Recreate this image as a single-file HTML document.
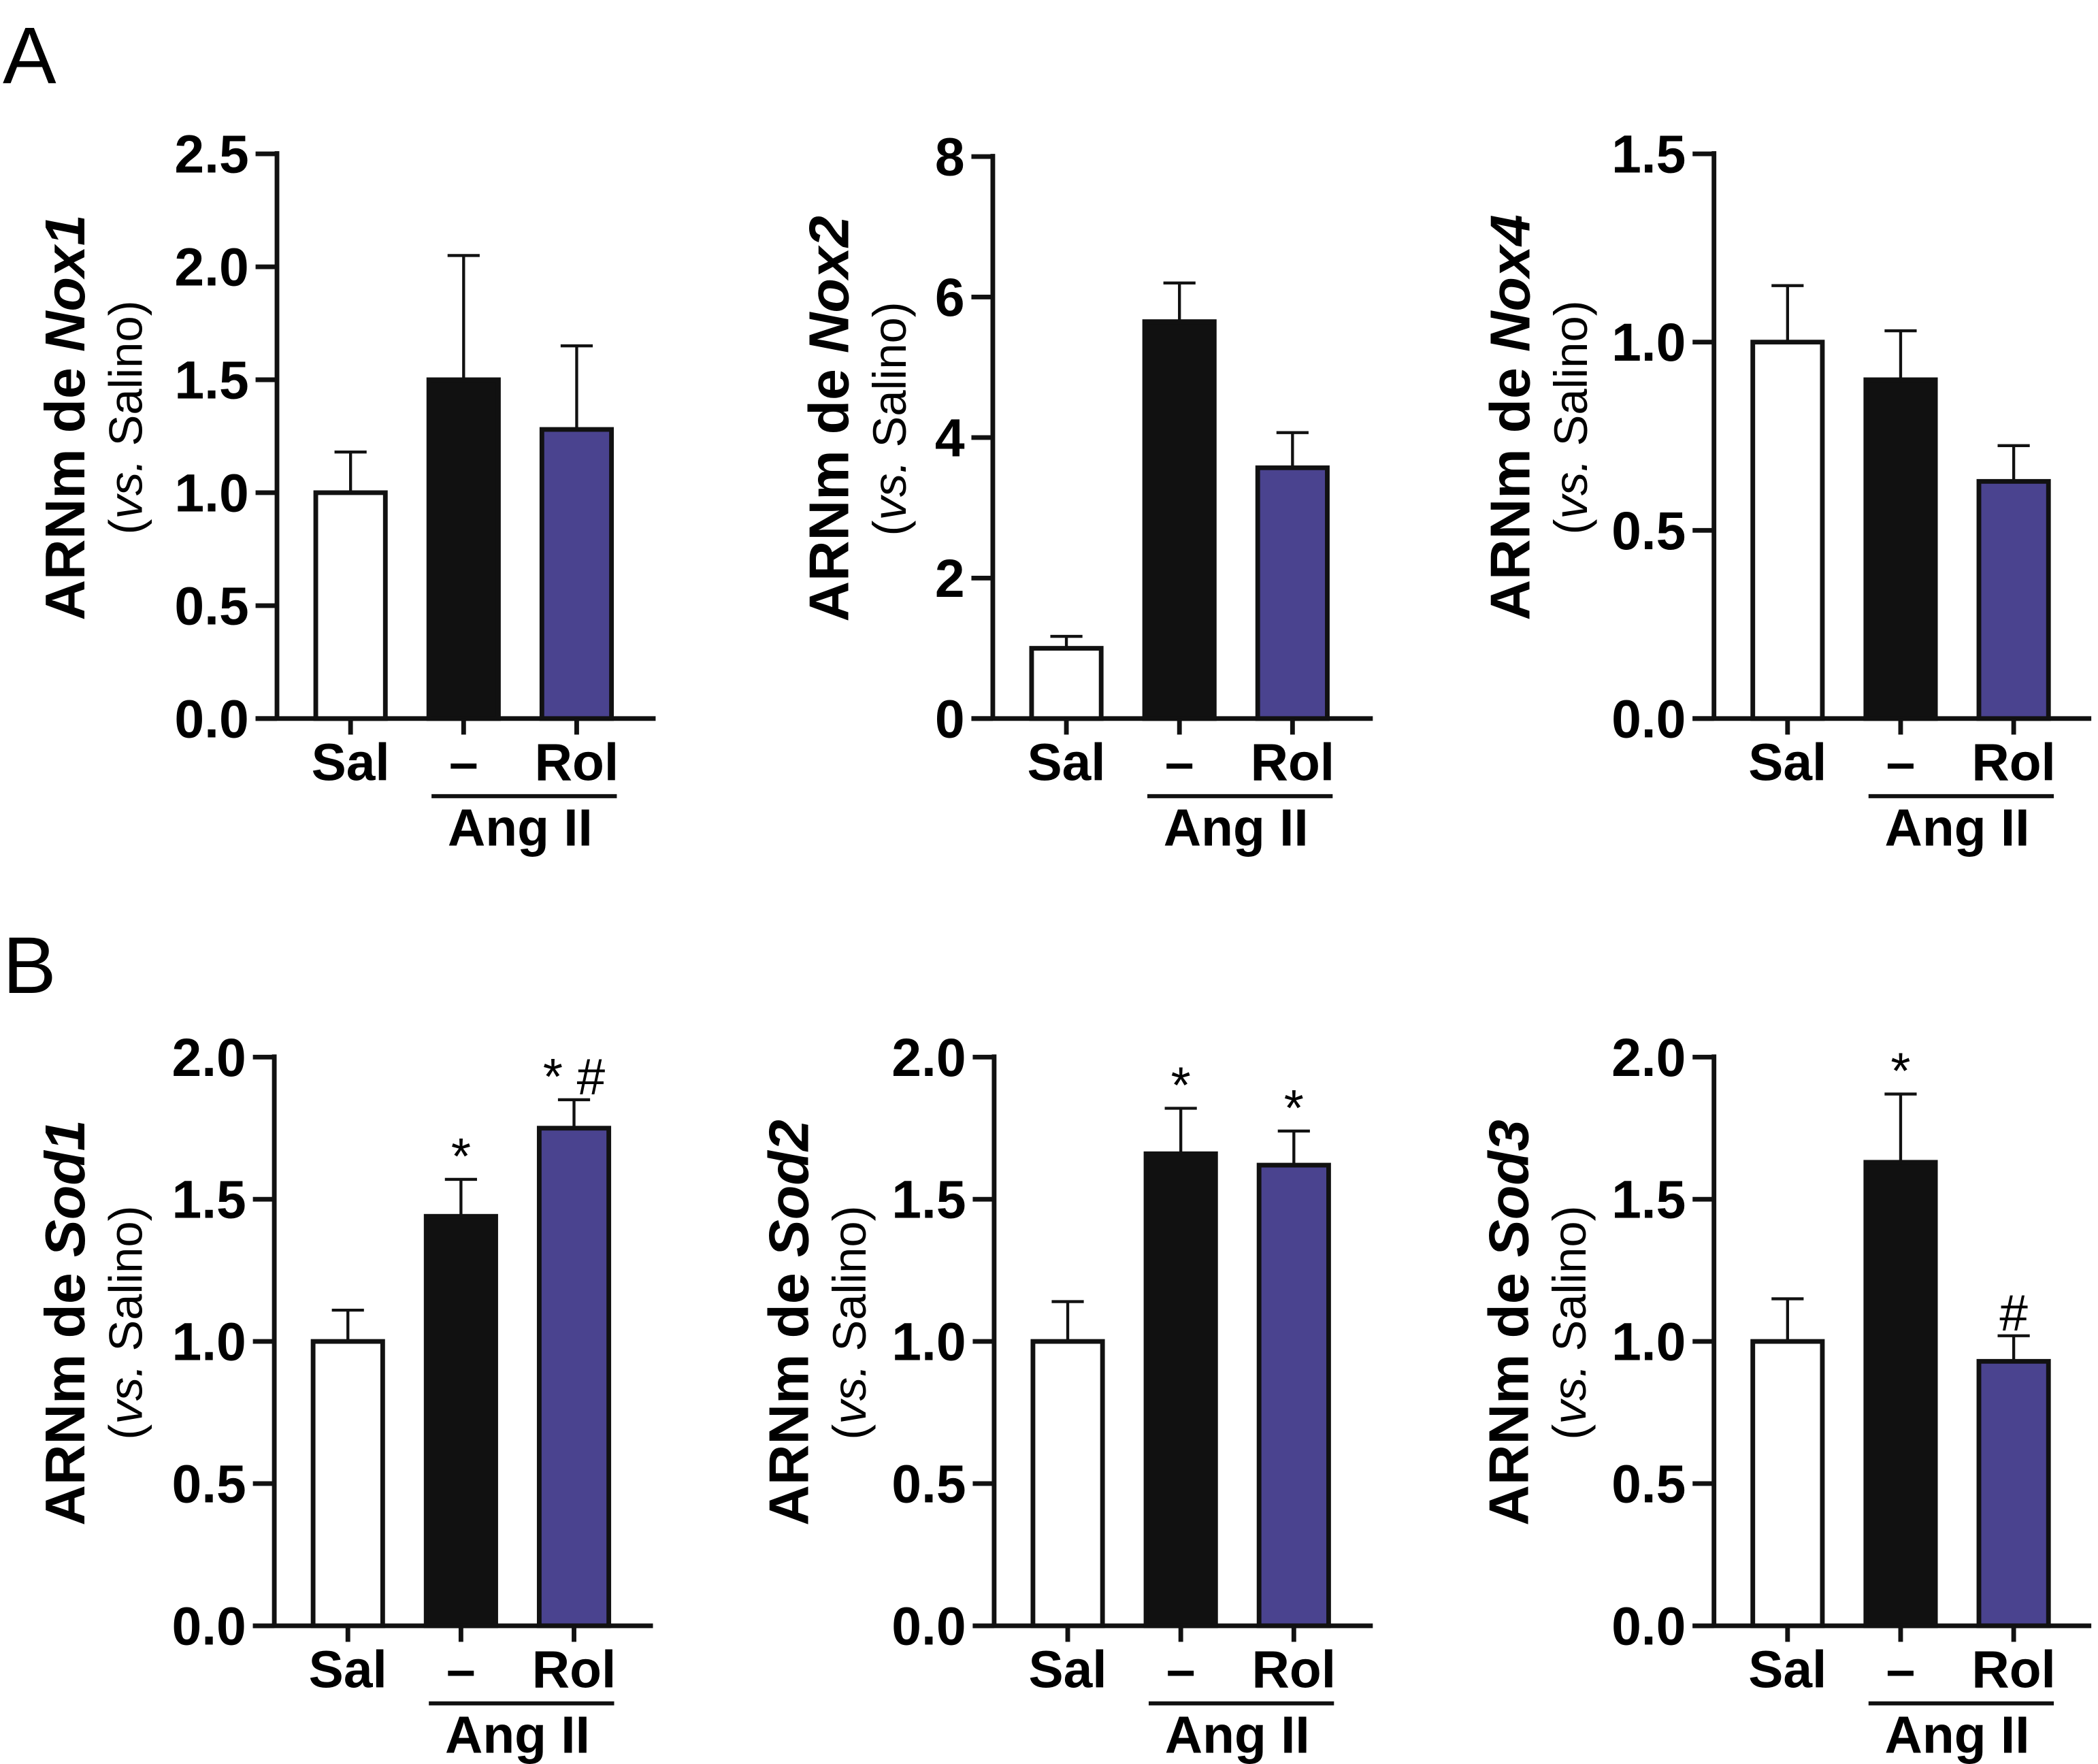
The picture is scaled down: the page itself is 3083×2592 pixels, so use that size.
<!DOCTYPE html>
<html><head><meta charset="utf-8"><style>
html,body{margin:0;padding:0;background:#fff;}
svg{display:block;}
text{font-family:"Liberation Sans",Arial,sans-serif;}
</style></head><body>
<svg id="fig" width="3083" height="2592" viewBox="0 0 1568 1318.3" xmlns="http://www.w3.org/2000/svg">
<text x="2" y="62" font-size="60">A</text>
<text x="2" y="742" font-size="60">B</text>
</svg>
<script>
// Panel data
const genes = ["Nox1","Nox2","Nox4","Sod1","Sod2","Sod3"];
const categories = ["Sal","–","Rol"];
const yMaxes = [2.5, 8, 1.5, 2.0, 2.0, 2.0];
const tickLabelsNox1 = ["0.0","0.5","1.0","1.5","2.0","2.5"];
const tickLabelsNox2 = ["0","2","4","6","8"];
const tickLabelsNox4 = ["0.0","0.5","1.0","1.5"];
const tickLabelsSod = ["0.0","0.5","1.0","1.5","2.0"];
const meansNox1 = [1.0, 1.5, 1.28];
const errNox1 = [0.18, 0.55, 0.37];
const meansNox2 = [1.0, 5.65, 3.57];
const errNox2 = [0.17, 0.55, 0.5];
const meansNox4 = [1.0, 0.9, 0.63];
const errNox4 = [0.15, 0.13, 0.095];
const meansSod1 = [1.0, 1.44, 1.75];
const errSod1 = [0.11, 0.13, 0.1];
const meansSod2 = [1.0, 1.66, 1.62];
const errSod2 = [0.14, 0.16, 0.12];
const meansSod3 = [1.0, 1.63, 0.93];
const errSod3 = [0.15, 0.24, 0.09];
const annotSod1 = ["", "*", "* #"];
const annotSod2 = ["", "*", "*"];
const annotSod3 = ["", "*", "#"];

const svg = document.getElementById('fig');
const NS = "http://www.w3.org/2000/svg";
function mk(tag, attrs, parent){ const e=document.createElementNS(NS,tag); for(const k in attrs) e.setAttribute(k,attrs[k]); (parent||svg).appendChild(e); return e; }

const panels = [
 {ax:207, top:115, bot:537, right:490, lx:63, sx:106, means:meansNox1, err:errNox1, ticks:tickLabelsNox1, max:yMaxes[0], ann:null},
 {ax:742, top:117, bot:537, right:1026, lx:634, sx:677, means:meansNox2, err:errNox2, ticks:tickLabelsNox2, max:yMaxes[1], ann:null},
 {ax:1281, top:115, bot:537, right:1563, lx:1143, sx:1186, means:meansNox4, err:errNox4, ticks:tickLabelsNox4, max:yMaxes[2], ann:null},
 {ax:205, top:790, bot:1215, right:488, lx:63, sx:106, means:meansSod1, err:errSod1, ticks:tickLabelsSod, max:yMaxes[3], ann:annotSod1},
 {ax:743, top:790, bot:1215, right:1026, lx:604, sx:647, means:meansSod2, err:errSod2, ticks:tickLabelsSod, max:yMaxes[4], ann:annotSod2},
 {ax:1281, top:790, bot:1215, right:1563, lx:1142, sx:1185, means:meansSod3, err:errSod3, ticks:tickLabelsSod, max:yMaxes[5], ann:annotSod3}
];
const fills = ["#ffffff","#111111","#4a438f"];

panels.forEach((p, pi) => {
  const g = mk('g', {});
  
  
  const y = v => p.bot - (v / p.max) * (p.bot - p.top);
  const xc = i => p.ax + 55 + i * 84.5;
  const ya = mk('line', {x1:p.ax, y1:p.top-2, x2:p.ax, y2:p.bot, stroke:'#111', 'stroke-width':3.5}, g);
  
  
  const xa = mk('line', {x1:p.ax-16, y1:p.bot, x2:p.right, y2:p.bot, stroke:'#111', 'stroke-width':3.5}, g);
  
  
  p.ticks.forEach((t, ti) => {
    const v = ti * p.max / (p.ticks.length - 1);
    const ty = y(v);
    mk('line', {x1:p.ax-16, y1:ty, x2:p.ax, y2:ty, stroke:'#111', 'stroke-width':3.5}, g);
    const tl = mk('text', {x:p.ax-21, y:ty+14, 'font-size':40, 'font-weight':'bold', 'text-anchor':'end'}, g);
    
    
    tl.textContent = t;
  });
  p.means.forEach((m, i) => {
    const cx = xc(i), top = y(m), et = y(m + p.err[i]);
    const eb = mk('line', {x1:cx, y1:top, x2:cx, y2:et, stroke:'#111', 'stroke-width':2.2}, g);
    
    
    mk('line', {x1:cx-12, y1:et, x2:cx+12, y2:et, stroke:'#111', 'stroke-width':2.2}, g);
    const b = mk('rect', {x:cx-26, y:top, width:52, height:p.bot-top, fill:fills[i], stroke:'#111', 'stroke-width':3.5}, g);
    
    
    mk('line', {x1:cx, y1:p.bot, x2:cx, y2:p.bot+12, stroke:'#111', 'stroke-width':3.5}, g);
    const cl = mk('text', {x:cx, y:p.bot+46, 'font-size':39, 'font-weight':'bold', 'text-anchor':'middle'}, g);
    
    
    cl.textContent = categories[i];
    if (p.ann && p.ann[i]) {
      const at = mk('text', {x:cx, y:et-4, 'font-size':38, 'text-anchor':'middle'}, g);
      
      
      at.textContent = p.ann[i];
    }
  });
  const gl = mk('line', {x1:xc(1)-24, y1:p.bot+58, x2:xc(2)+30, y2:p.bot+58, stroke:'#111', 'stroke-width':3}, g);
  
  
  const gt = mk('text', {x:(xc(1)+xc(2))/2, y:p.bot+95, 'font-size':39, 'font-weight':'bold', 'text-anchor':'middle'}, g);
  
  
  gt.textContent = 'Ang II';
  const cy = (p.top + p.bot) / 2 - 14;
  const yl = mk('text', {x:0, y:0, 'font-size':42, 'font-weight':'bold', 'text-anchor':'middle', transform:`translate(${p.lx},${cy}) rotate(-90)`}, g);
  
  
  yl.innerHTML = 'ARNm de <tspan font-style="italic">' + genes[pi] + '</tspan>';
  const ys = mk('text', {x:0, y:0, 'font-size':35, 'text-anchor':'middle', transform:`translate(${p.sx},${cy}) rotate(-90)`}, g);
  
  
  ys.innerHTML = '(<tspan font-style="italic">vs.</tspan> Salino)';
});
</script>
</body></html>
